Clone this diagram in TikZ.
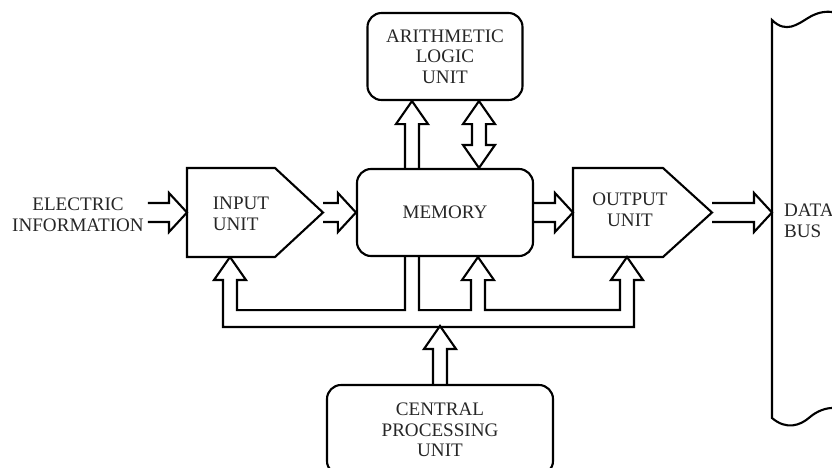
\documentclass[tikz,border=0pt]{standalone}
\usepackage{fontspec}
\setmainfont{Liberation Serif}
\usetikzlibrary{calc}
\tikzset{
  pipe/.style={draw, line width=1.8pt, line join=miter},
  txt/.style={font=\fontsize{16.3}{17.5}\selectfont, text=black!85, align=center},
  roundbox/.style={pipe, rounded corners=12pt, inner sep=0pt, txt},
  unitbox/.style={inner sep=0pt, outer sep=0pt, minimum height=2.67cm},
  fatright/.style={to path={
    ($(\tikztostart)+(0,-9.5)$) -- ($(\tikztotarget)+(-18,-9.5)$) -- ($(\tikztotarget)+(-18,-19.5)$)
    -- (\tikztotarget) -- ($(\tikztotarget)+(-18,19.5)$) -- ($(\tikztotarget)+(-18,9.5)$) -- ($(\tikztostart)+(0,9.5)$)}},
  fatup/.style={to path={
    ($(\tikztostart)+(-7,0)$) -- ($(\tikztotarget)+(-7,23)$) -- ($(\tikztotarget)+(-16,23)$)
    -- (\tikztotarget) -- ($(\tikztotarget)+(16,23)$) -- ($(\tikztotarget)+(7,23)$) -- ($(\tikztostart)+(7,0)$)}},
  fatboth/.style={to path={
    (\tikztostart) -- ($(\tikztostart)+(-16,-23)$) -- ($(\tikztostart)+(-7,-23)$) -- ($(\tikztotarget)+(-7,23)$)
    -- ($(\tikztotarget)+(-16,23)$) -- (\tikztotarget) -- ($(\tikztotarget)+(16,23)$) -- ($(\tikztotarget)+(7,23)$)
    -- ($(\tikztostart)+(7,-23)$) -- ($(\tikztostart)+(16,-23)$) -- cycle}}
}
\begin{document}
\begin{tikzpicture}[x=0.03cm, y=-0.03cm]
  \useasboundingbox (0,0) rectangle (832,467);

  % boxes
  \node[roundbox, minimum width=4.65cm, minimum height=2.61cm] (alu) at (445,56.5) {ARITHMETIC\\LOGIC\\UNIT};
  \node[roundbox, minimum width=5.28cm, minimum height=2.61cm] (mem) at (445,212.5) {MEMORY};
  \node[roundbox, minimum width=6.78cm, minimum height=2.7cm] (cpu) at (440,430) {CENTRAL\\PROCESSING\\UNIT};
  \node[unitbox, minimum width=4.08cm] (inp) at (255,212.5) {};
  \node[unitbox, minimum width=4.17cm] (outp) at (642.5,212.5) {};
  \draw[pipe] (inp.north west) -- ++(88,0) -- (inp.east) -- ($(inp.south west)+(88,0)$) -- (inp.south west) -- cycle;
  \draw[pipe] (outp.north west) -- ++(90,0) -- (outp.east) -- ($(outp.south west)+(90,0)$) -- (outp.south west) -- cycle;
  \node[txt, align=left] (inptxt) at (241,214) {INPUT\\UNIT};
  \node[txt] (outptxt) at (630,210) {OUTPUT\\UNIT};

  % data bus
  \draw[pipe] (832,12) .. controls (824,11) and (816,13) .. (808,18)
    .. controls (798,24) and (786,34) .. (772,20) -- (772,418)
    .. controls (786,430) and (800,426) .. (810,417) .. controls (817,411) and (826,408) .. (832,408);
  \coordinate (busedge) at (772,212.5);
  \node[txt, align=left, anchor=west] (bustxt) at (780,221) {DATA\\BUS};
  \node[txt] (elec) at (78,215) {ELECTRIC\\INFORMATION};

  % data flow
  \draw[pipe] (elec.east |- inp.west) to[fatright] (inp.west);
  \draw[pipe] (inp.east) to[fatright] (mem.west);
  \draw[pipe] (mem.east) to[fatright] (outp.west);
  \draw[pipe] (outp.east) to[fatright] (busedge);
  \draw[pipe] ($(mem.north)+(-33,0)$) to[fatup] ($(alu.south)+(-33,0)$);
  \draw[pipe] ($(mem.north)+(34,0)$) to[fatboth] ($(alu.south)+(34,0)$);

  % control bus
  \coordinate (tapin) at ($(inp.south west)+(43,0)$);
  \coordinate (tapmem) at ($(mem.south)+(33,0)$);
  \coordinate (tapout) at ($(outp.south west)+(54,0)$);
  \coordinate (busout) at ($(cpu.north)+(0,-58)$);
  \draw[pipe] (tapin) -- ++(16,23) -- ++(-9,0) |- ($(mem.south)+(-40,53)$) -- ($(mem.south)+(-40,0)$)
    ($(mem.south)+(-26,0)$) |- ($(tapmem)+(-7,53)$) -- ++(0,-30) -- ++(-9,0) -- (tapmem)
    -- ++(16,23) -- ++(-9,0) |- ($(tapout)+(-7,53)$) -- ++(0,-30) -- ++(-9,0) -- (tapout)
    -- ++(16,23) -- ++(-9,0) |- ($(tapin)+(-7,70)$) -- ++(0,-47) -- ++(-9,0) -- (tapin);
  \draw[pipe] (cpu.north) to[fatup] (busout);
\end{tikzpicture}
\end{document}
